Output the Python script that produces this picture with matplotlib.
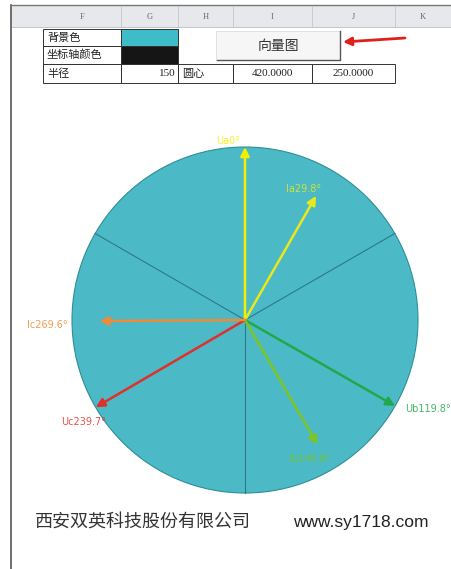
import numpy as np
import matplotlib
matplotlib.use('Agg')
import matplotlib.pyplot as plt
from matplotlib.patches import Circle, Rectangle

plt.rcParams['font.family'] = ['Noto Sans CJK SC', 'DejaVu Sans']

# vector data: angle measured clockwise from the top, magnitude in the same units as the radius
names = ['Ua', 'Ia', 'Ub', 'Ib', 'Uc', 'Ic']
angles = [0, 29.8, 119.8, 149.8, 239.7, 269.6]
mags = [150, 124, 150, 125, 150, 126]
labels = ['Ua0°', 'Ia29.8°', 'Ub119.8°', 'Ib149.8°', 'Uc239.7°', 'Ic269.6°']
colors = ['#F2F000', '#E8E81C', '#22A84A', '#7CC523', '#E0302C', '#F08A34']
radius = 150
sector_angles = [60, 180, 300]

# spreadsheet bits
col_letters = ['F', 'G', 'H', 'I', 'J', 'K']
col_edges = [43, 121, 178, 233, 312, 395, 451]
row3_texts = ['半径', '150', '圆心', '420.0000', '250.0000']

W, H = 451, 569
fig = plt.figure(figsize=(W / 100, H / 100), dpi=100)
fig.patch.set_facecolor('white')

# ---- vector diagram (data coords, centre at 0,0) ----
cx, cy, rpx = 245, 320, 173
k = radius / rpx
ax = fig.add_axes([0, 0, 1, 1])
ax.set_xlim(-cx * k, (W - cx) * k)
ax.set_ylim((cy - H) * k, cy * k)
ax.axis('off')

ax.add_patch(Circle((0, 0), radius, fc='#4BBAC6', ec='#2E8E98', lw=0.8, zorder=1))
for a in sector_angles:
    t = np.radians(a)
    ax.plot([0, radius * np.sin(t)], [0, radius * np.cos(t)], color='#2B7A86', lw=0.8, zorder=2)

offsets = [(-17, 6), (-13, 7), (10, -3), (-8, -14), (-12, -15), (-32, -4)]
aligns = ['center', 'center', 'left', 'center', 'center', 'right']
for ang, m, lab, c, off, ha in zip(angles, mags, labels, colors, offsets, aligns):
    t = np.radians(ang)
    tip = (m * np.sin(t), m * np.cos(t))
    ax.annotate('', xy=tip, xytext=(0, 0),
                arrowprops=dict(arrowstyle='-|>', color=c, lw=1.8, mutation_scale=13,
                                shrinkA=0, shrinkB=0), zorder=3)
    ax.annotate(lab, xy=tip, xytext=off, textcoords='offset pixels', ha=ha, va='center',
                color=c, fontsize=7, family=['DejaVu Sans'], zorder=4, alpha=0.85)

# ---- spreadsheet overlay (pixel coords) ----
px = fig.add_axes([0, 0, 1, 1])
px.set_xlim(0, W)
px.set_ylim(H, 0)
px.axis('off')
px.patch.set_visible(False)

# window frame
px.plot([11, 11], [5, H], color='#555555', lw=1.2)
px.plot([11, W], [5, 5], color='#777777', lw=1.0)

# column header
px.add_patch(Rectangle((12, 6), W - 12, 21, fc='#E6E8EC', ec='none'))
px.plot([12, W], [27, 27], color='#B8BCC4', lw=0.6)
for e in col_edges[1:-1]:
    px.plot([e, e], [6, 27], color='#C4C8CE', lw=0.6)
for i, letter in enumerate(col_letters):
    xc = (col_edges[i] + col_edges[i + 1]) / 2
    px.text(xc, 17, letter, ha='center', va='center', fontsize=6, color='#666666',
            family=['Liberation Serif', 'DejaVu Sans'])

# rows 1 and 2
px.text(47, 37.5, '背景色', ha='left', va='center', fontsize=8, color='#222222')
px.text(47, 55, '坐标轴颜色', ha='left', va='center', fontsize=8, color='#222222')
px.add_patch(Rectangle((col_edges[0], 29), col_edges[1] - col_edges[0], 17, fc='none', ec='#333333', lw=0.7))
px.add_patch(Rectangle((col_edges[0], 46), col_edges[1] - col_edges[0], 18, fc='none', ec='#333333', lw=0.7))
px.add_patch(Rectangle((col_edges[1], 29), col_edges[2] - col_edges[1], 17, fc='#3EBCC8', ec='#333333', lw=0.7))
px.add_patch(Rectangle((col_edges[1], 46), col_edges[2] - col_edges[1], 18, fc='#151515', ec='#333333', lw=0.7))

# row 3
for i, txt in enumerate(row3_texts):
    x0, x1 = col_edges[i], col_edges[i + 1]
    px.add_patch(Rectangle((x0, 64), x1 - x0, 19, fc='none', ec='#333333', lw=0.7))
    if i == 1:
        px.text(x1 - 2, 73.5, txt, ha='right', va='center', fontsize=8, color='#222222',
                family=['Liberation Serif', 'DejaVu Sans'])
    elif i in (0, 2):
        px.text(x0 + 4, 73.5, txt, ha='left', va='center', fontsize=8, color='#222222')
    else:
        px.text((x0 + x1) / 2, 73.5, txt, ha='center', va='center', fontsize=8, color='#222222',
                family=['Liberation Serif', 'DejaVu Sans'])

# button
px.add_patch(Rectangle((216, 31), 124, 29, fc='#F6F6F6', ec='#DDDDDD', lw=0.6))
px.plot([217, 340, 340], [60, 60, 31], color='#555555', lw=1.0)
px.text(278, 46, '向量图', ha='center', va='center', fontsize=10, color='#333333')

# red pointer arrow
px.annotate('', xy=(343, 42), xytext=(405, 38),
            arrowprops=dict(arrowstyle='-|>', color='#E0201C', lw=2, mutation_scale=12,
                            shrinkA=0, shrinkB=0))

# footer
px.text(35, 522, '西安双英科技股份有限公司', ha='left', va='center', fontsize=13, color='#333333')
px.text(293, 522, 'www.sy1718.com', ha='left', va='center', fontsize=12.5, color='#222222',
        family=['Liberation Sans', 'DejaVu Sans'])

fig.savefig('out.png', dpi=100)
